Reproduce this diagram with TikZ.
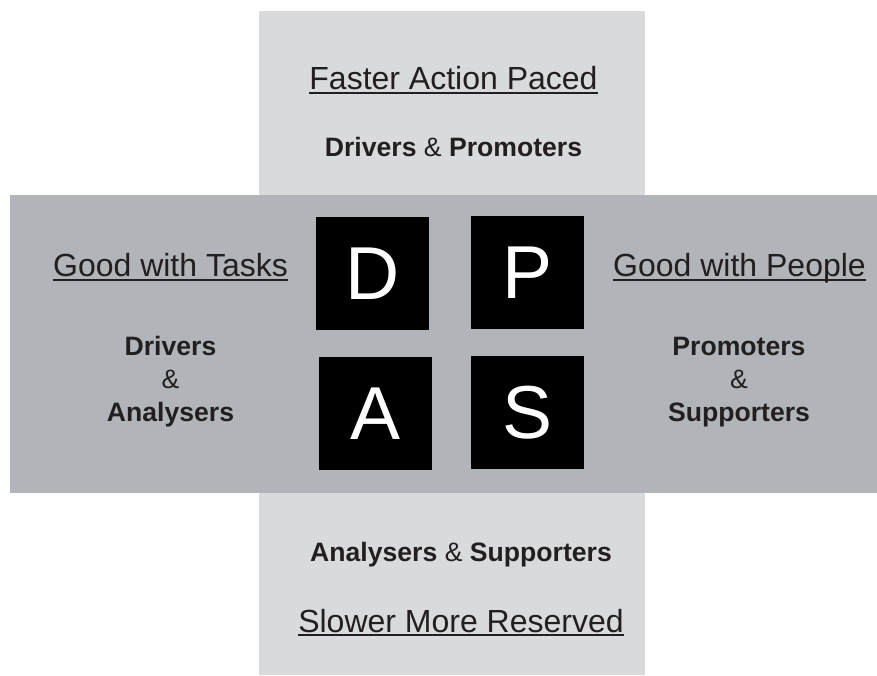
\documentclass[tikz,border=0pt]{standalone}
\usepackage{fontspec}
\setmainfont{Liberation Sans}
\definecolor{lightband}{HTML}{D9DADC}
\definecolor{darkband}{HTML}{B1B4B8}
\definecolor{ink}{HTML}{231F20}
\begin{document}
\begin{tikzpicture}[x=1pt,y=1pt,
  letter/.style={fill=black,text=white,minimum size=113pt,inner sep=0pt,font=\fontsize{75}{80}\selectfont},
  heading/.style={anchor=base,inner sep=0pt,text=ink,font=\fontsize{32}{38}\selectfont},
  group/.style={anchor=base,inner sep=0pt,text=ink,font=\fontsize{26.6}{32}\selectfont},
  uline/.style={draw=ink,line width=2pt}]
\useasboundingbox (0,0) rectangle (877,675);
% the two crossing bands
\fill[lightband] (259,0) rectangle (645,664);
\fill[darkband] (10,182) rectangle (877,480);
% the four letters
\node[letter] (D) at (372.5,401.5) {D};
\node[letter] (P) at (527.5,402.5) {P};
\node[letter] (A) at (375.5,261.5) {A};
\node[letter] (S) at (527.5,262.5) {S};
% top
\node[heading] (fast) at (453.5,585) {Faster Action Paced};
\draw[uline] ([yshift=-3pt]fast.base west) -- ([yshift=-3pt]fast.base east);
\node[group] (DP) at (453.5,518) {\textbf{Drivers} \& \textbf{Promoters}};
% left
\node[heading] (tasks) at (170.5,398) {Good with Tasks};
\draw[uline] ([yshift=-3pt]tasks.base west) -- ([yshift=-3pt]tasks.base east);
\node[group] (Dl) at (170.5,319) {\textbf{Drivers}};
\node[group] (andl) at (170.5,286) {\&};
\node[group] (Al) at (170.5,254) {\textbf{Analysers}};
% right
\node[heading] (people) at (739.5,398) {Good with People};
\draw[uline] ([yshift=-3pt]people.base west) -- ([yshift=-3pt]people.base east);
\node[group] (Pr) at (739,319) {\textbf{Promoters}};
\node[group] (andr) at (739,286) {\&};
\node[group] (Sr) at (739,254) {\textbf{Supporters}};
% bottom
\node[group] (AS) at (461,114) {\textbf{Analysers} \& \textbf{Supporters}};
\node[heading] (slow) at (461,43) {Slower More Reserved};
\draw[uline] ([yshift=-3pt]slow.base west) -- ([yshift=-3pt]slow.base east);
\end{tikzpicture}
\end{document}
